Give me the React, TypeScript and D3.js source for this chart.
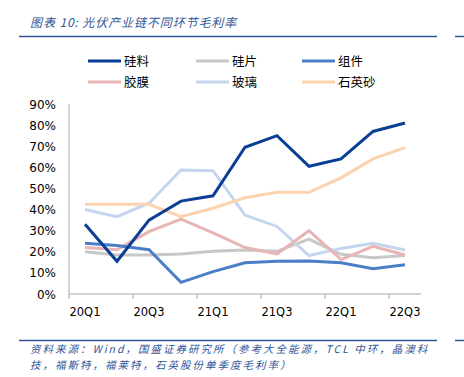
import React from "react";
import * as d3 from "d3";

const quarters = ["20Q1","20Q2","20Q3","20Q4","21Q1","21Q2","21Q3","21Q4","22Q1","22Q2","22Q3"];
const tickLabels = ["20Q1","20Q3","21Q1","21Q3","22Q1","22Q3"];
const yTicks = [0,10,20,30,40,50,60,70,80,90];

const silicon = [33, 15.5, 35, 44, 46.5, 69.5, 75, 60.5, 64, 77, 81];
const wafer = [20, 18.5, 18.5, 19, 20.3, 20.8, 20.2, 26, 18.8, 17.2, 18.2];
const module_ = [24, 23, 21, 5.5, 10.6, 14.8, 15.5, 15.6, 14.8, 12, 13.9];
const film = [22, 21, 29.5, 35.5, 29, 22, 19, 30, 16.3, 22.6, 18.5];
const glass = [40, 36.6, 43, 58.7, 58.4, 37.4, 32, 18.2, 21.6, 24, 20.8];
const quartz = [42.5, 42.5, 42.5, 36.6, 40.6, 45.6, 48.2, 48.2, 55, 64, 69.3];

const seriesNames = ["硅料","硅片","组件","胶膜","玻璃","石英砂"];
const seriesData = [silicon, wafer, module_, film, glass, quartz];
const seriesColors = ["#0a3f95","#c8c8c8","#4a7ec8","#e8b4b4","#c4d6ee","#fcd3ae"];
// drawing order (back to front)
const drawOrder = [1, 4, 5, 3, 2, 0];

export default function App() {
  const W = 464, H = 377;
  const x0 = 69, x1 = 421, y0 = 294, y1 = 104;
  const x = d3.scaleBand<string>().domain(quarters).range([x0, x1]).padding(0);
  const y = d3.scaleLinear().domain([0, 90]).range([y0, y1]);
  const line = d3.line<number>()
    .x((_, i) => (x(quarters[i]) as number) + x.bandwidth() / 2)
    .y(d => y(d));
  const blue = "#2f5597";
  const cjk = "'Noto Sans CJK SC', sans-serif";
  const legendPos = [
    [88, 61], [196, 61], [302, 61],
    [88, 82], [196, 82], [302, 82],
  ];
  const boundaryTicks = [0, 2, 4, 6, 8, 10].map(i => x(quarters[i]) as number);
  return (
    <svg width={W} height={H} style={{ position: "absolute", left: 0, top: 0 }}>
      <rect width={W} height={H} fill="#fff" />
      <text x={30} y={27} fontFamily={cjk} fontStyle="italic" fontSize={12} fill={blue} letterSpacing={0.9}>
        图表 10:  光伏产业链不同环节毛利率
      </text>
      <line x1={19} x2={437} y1={36.5} y2={36.5} stroke={blue} strokeWidth={1.5} />
      <line x1={455} x2={464} y1={36.5} y2={36.5} stroke={blue} strokeWidth={1.5} />

      {seriesNames.map((n, i) => (
        <g key={n}>
          <line x1={legendPos[i][0]} x2={legendPos[i][0] + 33} y1={legendPos[i][1]} y2={legendPos[i][1]}
            stroke={seriesColors[i]} strokeWidth={3} />
          <text x={legendPos[i][0] + 36} y={legendPos[i][1] + 4.5} fontFamily={cjk} fontSize={12.5} fill="#000">{n}</text>
        </g>
      ))}

      {yTicks.map(t => (
        <text key={t} x={56} y={y(t) + 4.5} textAnchor="end" fontFamily="'DejaVu Sans', sans-serif" fontSize={12} fill="#000">{t}%</text>
      ))}
      <line x1={x0} x2={x0} y1={y1} y2={y0} stroke="#a6a6a6" strokeWidth={1} />
      <line x1={x0} x2={x1} y1={y0} y2={y0} stroke="#a6a6a6" strokeWidth={1} />
      {boundaryTicks.map((bx, i) => (
        <line key={i} x1={bx} x2={bx} y1={y0} y2={y0 + 5} stroke="#a6a6a6" strokeWidth={1} />
      ))}
      {tickLabels.map(l => (
        <text key={l} x={(x(l) as number) + x.bandwidth() / 2} y={316} textAnchor="middle"
          fontFamily="'DejaVu Sans', sans-serif" fontSize={11.5} fill="#000">{l}</text>
      ))}

      {drawOrder.map(i => (
        <path key={i} d={line(seriesData[i]) as string} fill="none" stroke={seriesColors[i]}
          strokeWidth={3} strokeLinejoin="miter" />
      ))}

      <line x1={19} x2={437} y1={340.5} y2={340.5} stroke={blue} strokeWidth={1.5} />
      <line x1={455} x2={464} y1={340.5} y2={340.5} stroke={blue} strokeWidth={1.5} />
      <text x={30} y={353} fontFamily={cjk} fontStyle="italic" fontSize={10.5} fill={blue} letterSpacing={2}>
        资料来源：Wind，国盛证券研究所（参考大全能源，TCL 中环，晶澳科
      </text>
      <text x={30} y={368.5} fontFamily={cjk} fontStyle="italic" fontSize={10.5} fill={blue} letterSpacing={2}>
        技，福斯特，福莱特，石英股份单季度毛利率）
      </text>
    </svg>
  );
}
